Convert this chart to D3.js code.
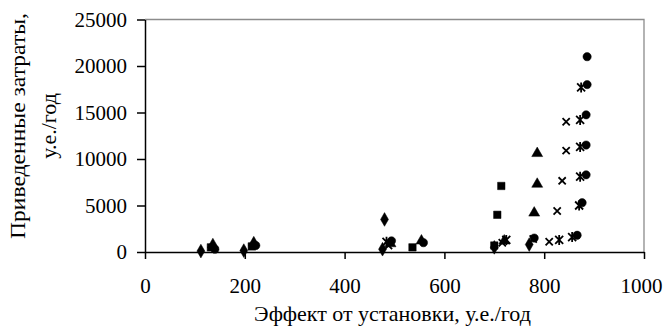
<!DOCTYPE html>
<html>
<head>
<meta charset="utf-8">
<script src="https://cdn.jsdelivr.net/npm/d3@7"></script>
<style>
  body { margin: 0; background: #fff; }
  svg text { font-family: "Liberation Serif", "Times New Roman", serif; fill: #000; }
</style>
</head>
<body>
<script>
// each series: effect (x, у.е./год) and reduced costs (y, у.е./год)
const diamondX = [112, 198, 476, 480, 700, 770];
const diamondY = [100, 150, 300, 3500, 500, 800];

const squareX = [132, 214, 536, 700, 706, 714];
const squareY = [500, 600, 500, 700, 4000, 7100];

const triangleX = [136, 218, 492, 554, 720, 780, 786, 786];
const triangleY = [800, 1000, 900, 1200, 1200, 4200, 7300, 10600];

const crossX = [488, 716, 778, 810, 826, 836, 844, 844];
const crossY = [700, 1000, 1400, 1100, 4400, 7650, 10900, 14000];

const starX = [484, 724, 830, 856, 870, 872, 872, 872, 874];
const starY = [1100, 1300, 1300, 1600, 5000, 8100, 11300, 14200, 17700];

const circleX = [140, 222, 494, 558, 780, 866, 876, 884, 884, 884, 886, 886];
const circleY = [300, 700, 1200, 1000, 1500, 1800, 5300, 8300, 11500, 14750, 18000, 21000];

const xTicks = [0, 200, 400, 600, 800, 1000];
const yTicks = [0, 5000, 10000, 15000, 20000, 25000];

const xTitle = "Эффект от установки, у.е./год";
const yTitle = ["Приведенные затраты,", "у.е./год"];

function init() {
    const w = 665;
    const h = 331;
    const left = 145, right = 644, top = 19.5, bottom = 252;

    const svg = d3.select('body').append('svg')
        .attr("width", w)
        .attr("height", h);

    const xScale = d3.scaleLinear().domain([0, 1000]).range([left, right]);
    const yScale = d3.scaleLinear().domain([0, 25000]).range([bottom, top]);

    // plot area border (top and right)
    svg.append('path')
        .attr("d", "M" + left + "," + top + "H" + right + "V" + bottom)
        .attr("fill", "none")
        .attr("stroke", "#8c8c8c")
        .attr("stroke-width", 1.3);

    // axes
    const xAxis = d3.axisBottom(xScale).tickValues(xTicks).tickFormat(d3.format("d"))
        .tickSizeInner(7).tickSizeOuter(0).tickPadding(19);
    const yAxis = d3.axisLeft(yScale).tickValues(yTicks).tickFormat(d3.format("d"))
        .tickSizeInner(8).tickSizeOuter(0).tickPadding(10);

    const gx = svg.append('g')
        .attr("transform", "translate(0," + bottom + ")")
        .call(xAxis);
    const gy = svg.append('g')
        .attr("transform", "translate(" + left + ",0)")
        .call(yAxis);

    [gx, gy].forEach(g => {
        g.attr("font-family", null).attr("font-size", null);
        g.select('.domain').attr("stroke", "#000").attr("stroke-width", 1.5);
        g.selectAll('.tick line').attr("stroke", "#000").attr("stroke-width", 1.5);
        g.selectAll('.tick text')
            .style("font-family", "'Liberation Serif', serif")
            .style("font-size", "21px")
            .attr("fill", "#000");
    });
    gx.selectAll('.tick text').filter(d => d === 1000).attr("dx", -3);

    // titles
    svg.append('text')
        .attr("x", (left + right) / 2 - 2)
        .attr("y", 321)
        .attr("text-anchor", "middle")
        .style("font-size", "22px")
        .text(xTitle);

    yTitle.forEach((t, i) => {
        const txt = svg.append('text')
            .attr("transform", "translate(" + (25 + i * 31) + "," + 126 + ") rotate(-90)")
            .attr("text-anchor", "middle")
            .style("font-size", "22px")
            .text(t);
        if (i === 0) txt.attr("textLength", 226).attr("lengthAdjust", "spacingAndGlyphs");
    });

    // markers
    const starPath = "M-4,-4L4,4M-4,4L4,-4M0,-5L0,5";
    const crossPath = "M-3.6,-3.6L3.6,3.6M-3.6,3.6L3.6,-3.6";
    const series = [
        { xs: diamondX, ys: diamondY, d: d3.symbol(d3.symbolDiamond, 54)(), fill: true },
        { xs: squareX, ys: squareY, d: d3.symbol(d3.symbolSquare, 55)(), fill: true },
        { xs: triangleX, ys: triangleY, d: d3.symbol(d3.symbolTriangle, 52)(), fill: true },
        { xs: crossX, ys: crossY, d: crossPath, fill: false },
        { xs: starX, ys: starY, d: starPath, fill: false },
        { xs: circleX, ys: circleY, d: d3.symbol(d3.symbolCircle, 54)(), fill: true }
    ];

    series.forEach(s => {
        const pts = s.xs.map((x, i) => [x, s.ys[i]]);
        svg.append('g').selectAll('path')
            .data(pts)
            .enter()
            .append('path')
                .attr("transform", d => "translate(" + xScale(d[0]) + "," + yScale(d[1]) + ")")
                .attr("d", s.d)
                .attr("fill", s.fill ? "#000" : "none")
                .attr("stroke", "#000")
                .attr("stroke-width", s.fill ? 0.5 : 1.8);
    });
}

window.onload = init;
</script>
</body>
</html>
